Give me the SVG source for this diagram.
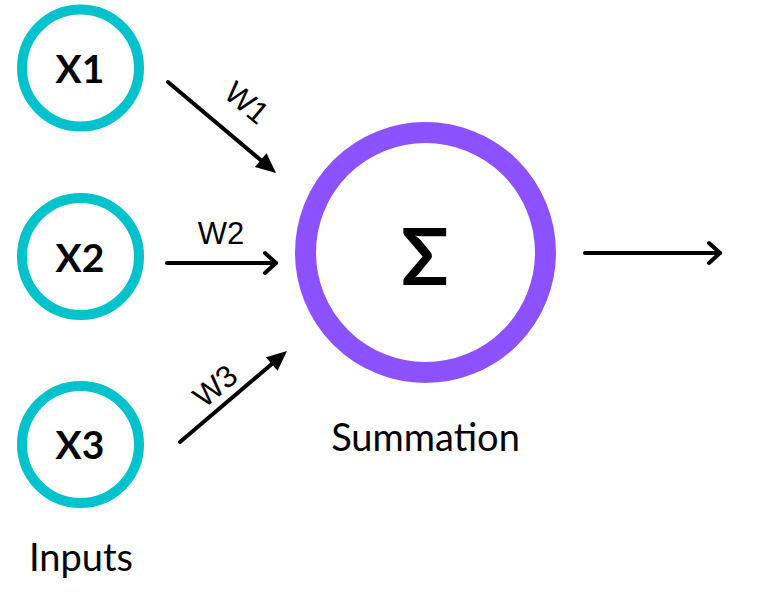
<svg xmlns="http://www.w3.org/2000/svg" width="772" height="600" viewBox="0 0 772 600">
<defs>
<style>
.inp{fill:none;stroke:#00C2CC;stroke-width:10}
.sum{fill:none;stroke:#8C52FF;stroke-width:21}
.xl{font-family:Lato,"Liberation Sans",sans-serif;font-weight:700;font-size:39px;fill:#000;text-anchor:middle}
.lbl{font-family:Lato,"Liberation Sans",sans-serif;font-size:38px;fill:#000;text-anchor:middle}
.wl{font-family:"Liberation Sans",Arial,sans-serif;font-size:31px;fill:#000;text-anchor:middle}
.con{stroke:#000;stroke-width:4;fill:none;stroke-linecap:round}
</style>
<marker id="tri" markerUnits="userSpaceOnUse" markerWidth="22" markerHeight="20" refX="4" refY="9" orient="auto" overflow="visible">
<path d="M0,0 L20,9 L0,18 Z" fill="#000"/>
</marker>
<marker id="chev" markerUnits="userSpaceOnUse" markerWidth="16" markerHeight="26" refX="0" refY="0" orient="auto" overflow="visible">
<path d="M-11,-10 L0,0 L-11,10" fill="none" stroke="#000" stroke-width="4" stroke-linecap="round" stroke-linejoin="round"/>
</marker>
</defs>
<rect width="772" height="600" fill="#fff"/>
<g id="x1"><circle class="inp" cx="80.5" cy="68" r="58.5"/><text class="xl" x="80" y="83">X1</text></g>
<g id="x2"><circle class="inp" cx="80.5" cy="256.5" r="58.5"/><text class="xl" x="80" y="272">X2</text></g>
<g id="x3"><circle class="inp" cx="80.5" cy="444.5" r="58.5"/><text class="xl" x="80" y="459">X3</text></g>
<g id="summation"><circle class="sum" cx="425.5" cy="252.5" r="120"/><text class="lbl" x="425" y="285" style="font-size:78px;font-weight:700">Σ</text></g>
<g id="labels">
<text class="lbl" x="425.5" y="451">Summation</text>
<text class="lbl" x="81" y="571">Inputs</text>
</g>
<g id="connectors">
<line class="con" x1="168" y1="82" x2="263.8" y2="162.7" marker-end="url(#tri)"/>
<line class="con" x1="167" y1="263" x2="276" y2="263" marker-end="url(#chev)"/>
<line class="con" x1="180" y1="442" x2="274.8" y2="361.4" marker-end="url(#tri)"/>
<line class="con" x1="585" y1="253" x2="720" y2="253" marker-end="url(#chev)"/>
<text class="wl" transform="translate(240,111) rotate(40)">W1</text>
<text class="wl" x="221" y="244">W2</text>
<text class="wl" transform="translate(222,394) rotate(-40)">W3</text>
</g>
</svg>
